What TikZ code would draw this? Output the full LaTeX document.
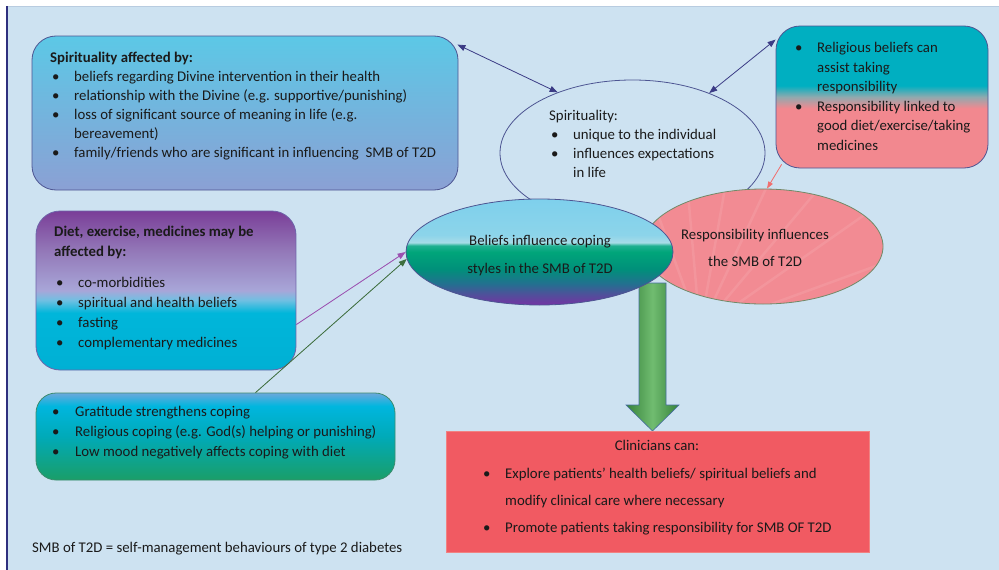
\documentclass[tikz,border=0pt]{standalone}
\usepackage{fontspec}
\setmainfont{Carlito}
\usetikzlibrary{arrows.meta,shapes.geometric}
\definecolor{bg}{HTML}{CDE2F1}
\definecolor{topline}{HTML}{B8CCE0}
\definecolor{navy}{HTML}{2E2F7E}
\definecolor{edge}{HTML}{4D5592}
\definecolor{conn}{HTML}{3B3B85}
\definecolor{rteal}{HTML}{00AFC1}
\definecolor{rgray}{HTML}{92A9AE}
\definecolor{rpink}{HTML}{F2888F}
\definecolor{pinkell}{HTML}{F28B93}
\definecolor{pinkedge}{HTML}{708A68}
\definecolor{clinred}{HTML}{F15A62}
\definecolor{clinedge}{HTML}{F08282}
\definecolor{txtc}{HTML}{1A1A1A}
\definecolor{spA}{HTML}{5CC8E6}
\definecolor{spB}{HTML}{8BA0D4}
\definecolor{dA}{HTML}{00B0D4}
\definecolor{dB}{HTML}{00B6DA}
\definecolor{dC}{HTML}{70C0E2}
\definecolor{dD}{HTML}{A8A6D8}
\definecolor{dE}{HTML}{9378B8}
\definecolor{dF}{HTML}{7A3E98}
\definecolor{dedge}{HTML}{6E64AA}
\definecolor{gA}{HTML}{1A9E68}
\definecolor{gB}{HTML}{00AAB8}
\definecolor{gC}{HTML}{00B6DE}
\definecolor{gD}{HTML}{6CA8DC}
\definecolor{gedge}{HTML}{3C8C6E}
\definecolor{bA}{HTML}{7432A4}
\definecolor{bB}{HTML}{50509A}
\definecolor{bC}{HTML}{237090}
\definecolor{bD}{HTML}{00907A}
\definecolor{bE}{HTML}{00A57A}
\definecolor{bF}{HTML}{20B090}
\definecolor{bG}{HTML}{A8DCE8}
\definecolor{bH}{HTML}{8CD4EA}
\definecolor{bI}{HTML}{7ED0EC}
\definecolor{arrG}{HTML}{36823A}
\definecolor{arrL}{HTML}{70BC70}
\definecolor{arrE}{HTML}{466EA0}
\definecolor{salm}{HTML}{F07070}
\definecolor{purp}{HTML}{9B50B0}
\definecolor{grn}{HTML}{3E6E3E}
\pgfdeclareverticalshading{rboxshade}{100bp}{color(0bp)=(rpink); color(25bp)=(rpink); color(46bp)=(rpink); color(50bp)=(rgray); color(54bp)=(rteal); color(75bp)=(rteal); color(100bp)=(rteal)}
\pgfdeclareverticalshading{dietshade}{100bp}{color(0bp)=(dA); color(25bp)=(dA); color(43bp)=(dB); color(47bp)=(dC); color(50bp)=(dD); color(62.5bp)=(dE); color(75bp)=(dF); color(100bp)=(dF)}
\pgfdeclareverticalshading{gratshade}{100bp}{color(0bp)=(gA); color(25bp)=(gA); color(50bp)=(gB); color(67.5bp)=(gC); color(75bp)=(gD); color(100bp)=(gD)}
\pgfdeclareverticalshading{belshade}{100bp}{color(0bp)=(bA); color(25bp)=(bA); color(30bp)=(bB); color(35bp)=(bC); color(42bp)=(bD); color(50bp)=(bE); color(53bp)=(bF); color(54.5bp)=(bG); color(58bp)=(bH); color(75bp)=(bI); color(100bp)=(bI)}
\newcommand\bul{\makebox[22pt][l]{\textbullet}}
\newcommand\bulw{\makebox[23pt][l]{\textbullet}}
\newcommand\fs[1]{\fontsize{14.8}{#1}\selectfont}
\tikzset{
  box/.style={draw=edge, line width=0.8pt, rounded corners=24pt, inner sep=0pt},
  txt/.style={inner sep=0pt, text=txtc, font=\fs{19}},
  conn/.style={draw=conn, line width=0.8pt, {Triangle[length=8pt,width=6pt]}-{Triangle[length=8pt,width=6pt]}},
  oneway/.style={line width=0.8pt, -{Triangle[length=8pt,width=6pt]}},
  ell/.style={ellipse, inner sep=0pt}
}
\begin{document}
\begin{tikzpicture}[x=1pt,y=-1pt]
\useasboundingbox (0,0) rectangle (999,570);
\fill[white] (0,0) rectangle (999,570);
\fill[bg] (7,6) rectangle (999,570);
\draw[topline, line width=0.8pt] (7,6) -- (999,6);
\draw[navy, line width=2pt] (7,6) -- (7,570);

% spirituality ellipse
\node[ell, draw=edge, line width=0.8pt, fill=bg, minimum width=265pt, minimum height=146pt] (spirit) at (632.5,153) {};

% responsibility ellipse
\node[ell, draw=pinkedge, line width=0.8pt, fill=pinkell, minimum width=240pt, minimum height=115pt] (resp) at (763,246.5) {};
\begin{scope}
\clip (763,246.5) ellipse [x radius=119.5pt, y radius=57pt];
\foreach \a in {-10,5,...,190}{
  \draw[white, opacity=0.09, line width=2.5pt] (700,330) -- ++(\a:260pt);
}
\end{scope}

% big green arrow
\shade[left color=arrG, right color=arrG, middle color=arrL, draw=arrE, line width=0.6pt]
 (639,283) -- (666,283) -- (666,405) -- (679,405) -- (652.5,431) -- (626,405) -- (639,405) -- cycle;

% beliefs ellipse
\node[ell, draw=edge, line width=0.8pt, shading=belshade, minimum width=267pt, minimum height=106pt] (beliefs) at (539.5,252) {};

% boxes
\node[box, minimum width=426pt, minimum height=154pt, top color=spA, bottom color=spB] (spbox) at (245,113) {};
\node[box, minimum width=212pt, minimum height=142pt, shading=rboxshade] (rbox) at (882,97) {};
\node[box, draw=dedge, minimum width=260pt, minimum height=159pt, shading=dietshade] (diet) at (166,290.5) {};
\node[box, draw=gedge, rounded corners=20pt, minimum width=359pt, minimum height=87pt, shading=gratshade] (grat) at (215.5,436.5) {};
\node[draw=clinedge, line width=0.6pt, fill=clinred, minimum width=423pt, minimum height=121pt, inner sep=0pt] (clin) at (657.5,491.5) {};

% texts
\node[txt, anchor=base west] (t1) at (52,62) {\parbox[t]{420pt}{\fs{19}
\hspace*{-2pt}\textbf{Spirituality affected by:}\\
\bul beliefs regarding Divine intervention in their health\\
\bul relationship with the Divine (e.g. supportive/punishing)\\
\bul loss of significant source of meaning in life (e.g.\\
\hspace*{22pt}bereavement)\\
\bul family/friends who are significant in influencing~ SMB of T2D}};

\node[txt, anchor=base west] (t2) at (551,120.5) {\parbox[t]{200pt}{\fs{19}
\hspace*{-2pt}Spirituality:\\
\bul unique to the individual\\
\bul influences expectations\\
\hspace*{22pt}in life}};

\node[txt, anchor=base west] (t3) at (795,52.5) {\parbox[t]{200pt}{\fs{19.6}
\bul Religious beliefs can\\
\hspace*{22pt}assist taking\\
\hspace*{22pt}responsibility\\
\bul Responsibility linked to\\
\hspace*{22pt}good diet/exercise/taking\\
\hspace*{22pt}medicines}};

\node[txt, anchor=base west] (t4) at (56,236.5) {\parbox[t]{240pt}{\fs{20}
\hspace*{-2pt}\textbf{Diet, exercise, medicines may be}\\
\hspace*{-2pt}\textbf{affected by:}\\[11pt]
\bul co-morbidities\\
\bul spiritual and health beliefs\\
\bul fasting\\
\bul complementary medicines}};

\node[txt, anchor=base west] (t5) at (52,416.5) {\parbox[t]{340pt}{\fs{20}
\bulw Gratitude strengthens coping\\
\bulw Religious coping (e.g. God(s) helping or punishing)\\
\bulw Low mood negatively affects coping with diet}};

\node[txt, anchor=base west] (t6) at (32,552.5) {SMB of T2D = self-management behaviours of type 2 diabetes};

\node[txt, anchor=base] (t7) at (540,245.5) {\parbox[t]{240pt}{\centering\fs{28}
Beliefs influence coping\\
styles in the SMB of T2D}};

\node[txt, anchor=base] (t8) at (755,239.5) {\parbox[t]{240pt}{\centering\fs{27}
Responsibility influences\\
the SMB of T2D}};

\node[txt, anchor=base] (t9) at (657,450.5) {Clinicians can:};
\node[txt, anchor=base west] (t10) at (483,478.5) {\parbox[t]{380pt}{\fs{27}
\bul Explore patients' health beliefs/ spiritual beliefs and\\
\hspace*{22pt}modify clinical care where necessary\\
\bul Promote patients taking responsibility for SMB OF T2D}};

% connectors
\draw[conn] ([xshift=-1pt,yshift=-9pt]spbox.north east) -- (spirit.141);
\draw[conn] ([yshift=-14pt]rbox.north west) -- (spirit.38);
\draw[oneway, draw=salm, fill=salm, -{Triangle[length=7pt,width=5pt]}] ([xshift=6pt,yshift=4pt]rbox.south west) -- ([xshift=4pt]resp.north);
\draw[oneway, draw=purp, fill=purp] ([yshift=-34pt]diet.east) -- (beliefs.west);
\draw[oneway, draw=grn, fill=grn] ([xshift=40pt]grat.north) -- (beliefs.183);
\end{tikzpicture}
\end{document}
